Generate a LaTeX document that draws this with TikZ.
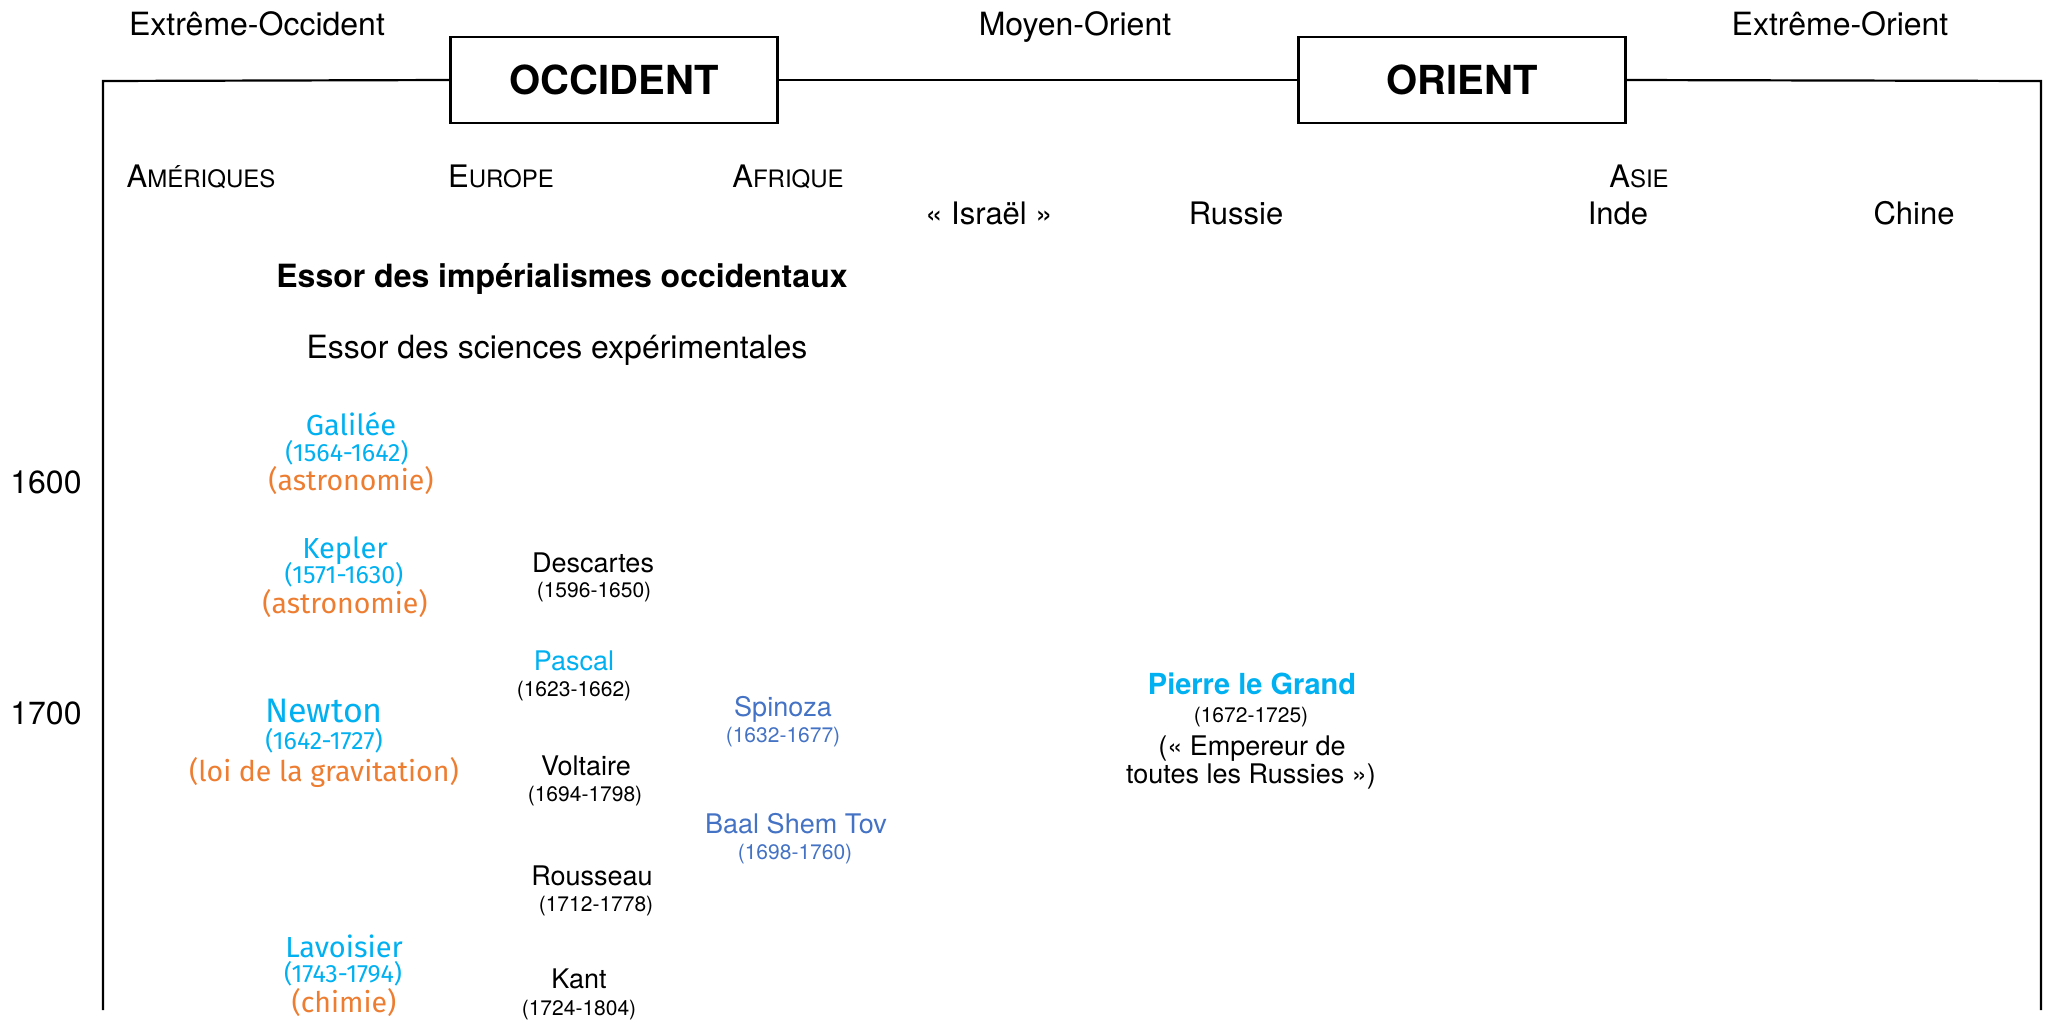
\documentclass[tikz,border=0pt]{standalone}
\usepackage{fontspec}
\setmainfont{TeX Gyre Heros}
\newfontfamily\fira{Fira Sans}
\definecolor{cyanc}{HTML}{00B0F0}
\definecolor{orangec}{HTML}{ED7D31}
\definecolor{bluec}{HTML}{4472C4}
\newcommand\fsz[1]{\fontsize{#1}{#1}\selectfont}
\begin{document}
\begin{tikzpicture}[x=1pt,y=-1pt,
  lbl/.style={inner sep=0pt,anchor=base},
  hdr/.style={lbl,font=\fsz{32}},
  region/.style={lbl},
  boxc/.style={draw,line width=2.2pt,minimum width=327pt,minimum height=86pt,inner sep=0pt,font=\fsz{40}\bfseries},
  frame/.style={line width=2.2pt},
  sname/.style={lbl,font=\fira\fsz{29},text=cyanc},
  sdate/.style={lbl,font=\fira\fsz{25},text=cyanc},
  sfield/.style={lbl,font=\fira\fsz{28.5},text=orangec},
  pname/.style={lbl,font=\fsz{27}},
  pdate/.style={lbl,font=\fsz{21}},
  year/.style={lbl,font=\fsz{32}}]
\useasboundingbox (0,0) rectangle (2049,1020);
% frame
\node[boxc] (occ) at (614,80) {OCCIDENT};
\node[boxc] (ori) at (1462,80) {ORIENT};
\coordinate (tl) at (103,81);
\coordinate (bl) at (103,1010);
\coordinate (tr) at (2041,81);
\coordinate (br) at (2041,1010);
\draw[frame] (bl) -- (tl) -- (occ.west);
\draw[frame] (occ.east) -- (ori.west);
\draw[frame] (ori.east) -- (tr) -- (br);
% headers
\node[hdr] (eo) at (257,35) {Extrême-Occident};
\node[hdr] (mo) at (1075,35) {Moyen-Orient};
\node[hdr] (ex) at (1840,35) {Extrême-Orient};
\node[region] (am) at (201,187) {{\fsz{31}A}{\fsz{24}MÉRIQUES}};
\node[region] (eu) at (501,187) {{\fsz{31}E}{\fsz{24}UROPE}};
\node[region] (af) at (788,187) {{\fsz{31}A}{\fsz{24}FRIQUE}};
\node[region] (as) at (1639,187) {{\fsz{31}A}{\fsz{24}SIE}};
\node[hdr,font=\fsz{31}] (is) at (989,224) {« Israël »};
\node[hdr,font=\fsz{31}] (ru) at (1236,224) {Russie};
\node[hdr,font=\fsz{31}] (in) at (1618,224) {Inde};
\node[hdr,font=\fsz{31}] (ch) at (1914,224) {Chine};
\node[lbl,font=\fsz{32}\bfseries] (imp) at (562,287) {Essor des impérialismes occidentaux};
\node[lbl,font=\fsz{32}] (sci) at (557,358) {Essor des sciences expérimentales};
% years
\node[year] (y16) at (46,493) {1600};
\node[year] (y17) at (46,724) {1700};
% scientists
\node[sname] (gal) at (351,435) {Galilée};
\node[sdate] (gald) at (347,461) {(1564-1642)};
\node[sfield] (galf) at (351,490) {(astronomie)};
\node[sname] (kep) at (345,558) {Kepler};
\node[sdate] (kepd) at (344,583) {(1571-1630)};
\node[sfield] (kepf) at (345,613) {(astronomie)};
\node[sname,font=\fira\fsz{34}] (new) at (324,722) {Newton};
\node[sdate] (newd) at (324,749) {(1642-1727)};
\node[sfield] (newf) at (324,781) {(loi de la gravitation)};
\node[sname] (lav) at (344,957) {Lavoisier};
\node[sdate] (lavd) at (343,982) {(1743-1794)};
\node[sfield] (lavf) at (344,1012) {(chimie)};
% philosophers
\node[pname] (des) at (593,572) {Descartes};
\node[pdate] (desd) at (594,597) {(1596-1650)};
\node[pname,text=cyanc] (pas) at (574,670) {Pascal};
\node[pdate] (pasd) at (574,696) {(1623-1662)};
\node[pname] (vol) at (586,775) {Voltaire};
\node[pdate] (vold) at (585,801) {(1694-1798)};
\node[pname] (rou) at (592,885) {Rousseau};
\node[pdate] (roud) at (596,911) {(1712-1778)};
\node[pname] (kan) at (579,988) {Kant};
\node[pdate] (kand) at (579,1015) {(1724-1804)};
\node[pname,text=bluec] (spi) at (783,716) {Spinoza};
\node[pdate,text=bluec] (spid) at (783,742) {(1632-1677)};
\node[pname,text=bluec] (bst) at (796,833) {Baal Shem Tov};
\node[pdate,text=bluec] (bstd) at (795,859) {(1698-1760)};
% Pierre le Grand
\node[lbl,font=\fsz{29}\bfseries,text=cyanc] (pg) at (1252,694) {Pierre le Grand};
\node[pdate] (pgd) at (1251,722) {(1672-1725)};
\node[pname] (pg1) at (1252,755) {(« Empereur de};
\node[pname] (pg2) at (1251,783) {toutes les Russies »)};
\end{tikzpicture}
\end{document}
